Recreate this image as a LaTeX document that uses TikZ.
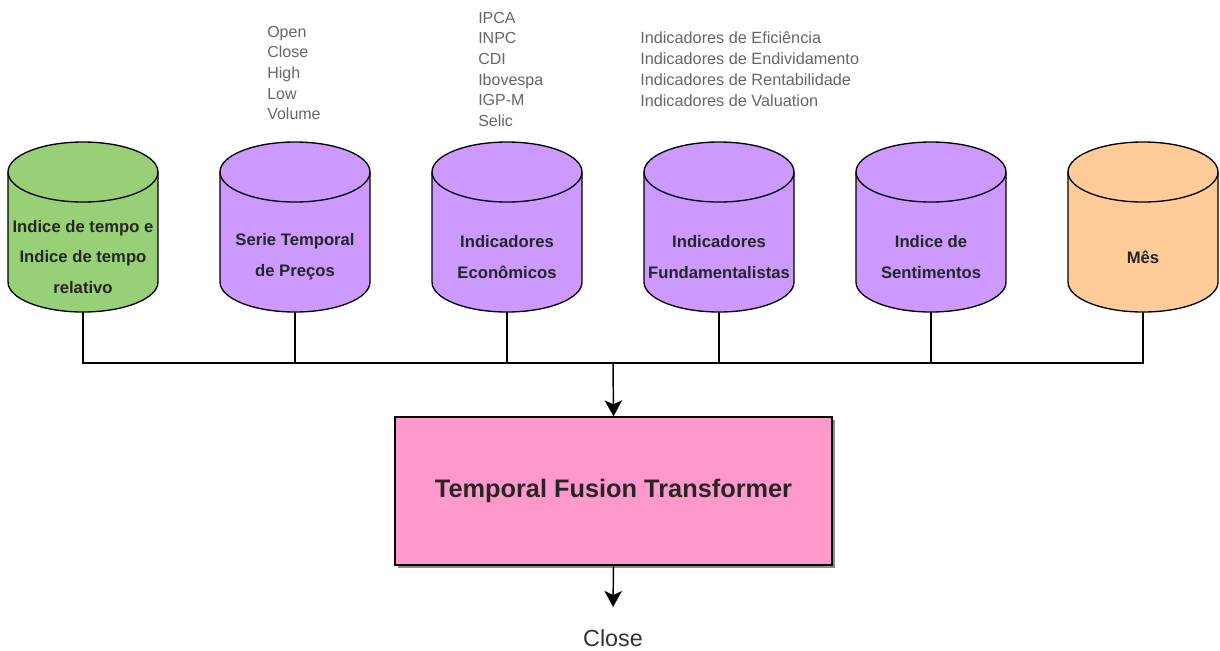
\documentclass[tikz,border=0pt]{standalone}
\usepackage{fontspec}
\setmainfont{Liberation Sans}
\usetikzlibrary{arrows.meta,shadows}
\definecolor{cgreen}{HTML}{97D077}
\definecolor{cpurple}{HTML}{CC99FF}
\definecolor{corange}{HTML}{FFCC99}
\definecolor{cpink}{HTML}{FF99CC}
\definecolor{labelgray}{HTML}{262626}
\definecolor{listgray}{HTML}{666666}
\definecolor{closegray}{HTML}{333333}
\newcommand\mycyl[4]{%
  \node[cylbox] (#1) at (#2,227) {};
  \path[fill=#3, draw=black, line width=1pt]
    (#2-75,172) -- (#2-75,282)
    arc[start angle=180, end angle=360, x radius=56.25pt, y radius=22.5pt]
    -- (#2+75,172)
    arc[start angle=0, end angle=180, x radius=56.25pt, y radius=22.5pt] -- cycle;
  \draw[line width=1pt] (#2-75,172)
    arc[start angle=180, end angle=360, x radius=56.25pt, y radius=22.5pt];
  \node[cyllabel] (#1t) at (#2,257) {#4};
}
\begin{document}
\begin{tikzpicture}[x=0.75pt,y=-0.75pt,
  cylbox/.style={minimum width=112.5pt, minimum height=127.5pt, inner sep=0pt, outer sep=0pt, draw=none},
  cyllabel/.style={align=center, font=\bfseries\fontsize{12.5}{23}\selectfont, text=labelgray, inner sep=0pt},
  listtxt/.style={align=left, anchor=north west, font=\fontsize{12}{15.4}\selectfont, text=listgray, inner sep=0pt},
  wire/.style={line width=1.1pt},
  arr/.style={wire, -{Stealth[length=12pt, width=13pt, inset=3pt]}}]
\useasboundingbox (0,0) rectangle (1220,650);

\mycyl{c1}{83}{cgreen}{Indice de tempo e\\Indice de tempo\\relativo}
\mycyl{c2}{295}{cpurple}{Serie Temporal\\de Preços}
\mycyl{c3}{507}{cpurple}{Indicadores\\Econômicos}
\mycyl{c4}{719}{cpurple}{Indicadores\\Fundamentalistas}
\mycyl{c5}{931}{cpurple}{Indice de\\Sentimentos}
\mycyl{c6}{1143}{corange}{Mês}

\node[listtxt] (l1) at (267,26) {Open\\Close\\High\\Low\\Volume};
\node[listtxt] (l2) at (478,12) {IPCA\\INPC\\CDI\\Ibovespa\\IGP-M\\Selic};
\node[listtxt, font=\fontsize{12.2}{15.8}\selectfont] (l3) at (640,31) {Indicadores de Eficiência\\Indicadores de Endividamento\\Indicadores de Rentabilidade\\Indicadores de Valuation};

\node[draw=black, line width=1pt, fill=cpink, minimum width=327.75pt, minimum height=111pt,
  drop shadow={shadow xshift=2pt, shadow yshift=-2pt, opacity=0.45, fill=black},
  font=\bfseries\fontsize{19}{22}\selectfont, text=labelgray] (tft) at (613.5,491) {Temporal Fusion Transformer};

\node[font=\fontsize{17.5}{20}\selectfont, text=closegray, inner sep=0pt] (close) at (613,638) {Close};

\coordinate (bus) at (613,363);
\coordinate (out) at (613,607);
\draw[wire] (c1.south) |- (bus) -| (c6.south);
\foreach \n in {c2,c3,c4,c5} \draw[wire] (\n.south) -- (\n.south |- bus);
\draw[arr] (bus) -- (tft.north);
\draw[arr] (tft.south) -- (out);
\end{tikzpicture}
\end{document}
